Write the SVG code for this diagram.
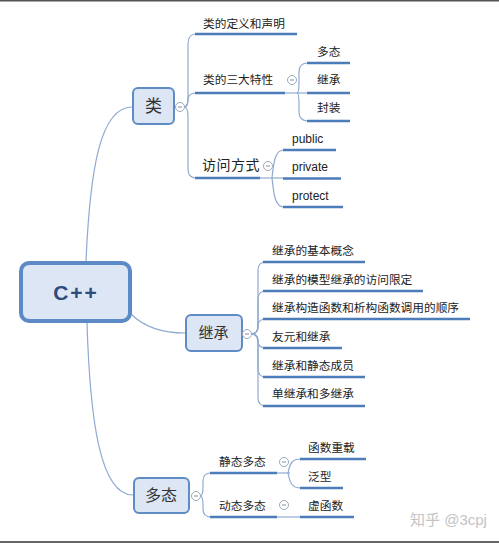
<svg xmlns="http://www.w3.org/2000/svg" width="499" height="544" viewBox="0 0 499 544">
<style>
.con{fill:none;stroke:#8eaad0;stroke-width:1.2}
.ul{stroke:#4d7db9;stroke-width:2.6;stroke-linecap:butt}
.t{font-family:"Liberation Sans","Noto Sans CJK SC",sans-serif;font-size:11.7px;fill:#222}
.box{fill:#dce6f4;stroke:#5f8cc4;stroke-width:2}
.nt{font-family:"Liberation Sans","Noto Sans CJK SC",sans-serif;fill:#333;text-anchor:middle}
.col{fill:#fff;stroke:#9aa8b8;stroke-width:1}
.mn{stroke:#7f8fa3;stroke-width:1}
</style>
<rect width="499" height="544" fill="#fff"/>
<rect x="0" y="0" width="499" height="1.5" fill="#555"/>
<rect x="0" y="541" width="499" height="2" fill="#666"/>

<g id="connectors">
<path class="con" d="M86,261 C90,170 100,107 132,107"/>
<path class="con" d="M131,314 Q150,333 185,333"/>
<path class="con" d="M87,323 C90,420 100,495 133,495"/>
<!-- 类 -->
<path class="con" d="M184,107 Q188,107 188,98 L188,44 Q188,34 196,34"/>
<path class="con" d="M184,107 Q188,107 188,100 Q188,93 196,93"/>
<path class="con" d="M184,107 Q188,107 188,116 L188,169 Q188,178 196,178"/>
<path class="con" d="M285,93 L307,93"/>
<path class="con" d="M297,93 Q299,93 299,82 L299,72 Q299,63 308,63"/>
<path class="con" d="M297,93 Q299,93 299,104 L299,112 Q299,121 308,121"/>
<path class="con" d="M260,178 L284,178"/>
<path class="con" d="M272,178 C274,158 276,150 284,150"/>
<path class="con" d="M272,178 C274,198 276,207 284,207"/>
<!-- 继承 -->
<path class="con" d="M251,334 Q258,334 258,326 L258,270 Q258,262 266,262"/>
<path class="con" d="M251,334 Q258,334 258,326 L258,299 Q258,291 266,291"/>
<path class="con" d="M251,334 Q258,334 258,326 Q258,319 266,319"/>
<path class="con" d="M251,334 Q258,334 258,341 Q258,348 266,348"/>
<path class="con" d="M251,334 Q258,334 258,342 L258,369 Q258,377 266,377"/>
<path class="con" d="M251,334 Q258,334 258,342 L258,398 Q258,406 266,406"/>
<!-- 多态 -->
<path class="con" d="M200,496 Q203,496 203,488 L203,481 Q203,473 211,473"/>
<path class="con" d="M200,496 Q203,496 203,504 L203,509 Q203,517 211,517"/>
<path class="con" d="M277,473 L290,473"/>
<path class="con" d="M288,473 C290,463 292,459 301,459"/>
<path class="con" d="M288,473 C290,483 292,488 301,488"/>
<path class="con" d="M277,517 L301,517"/>
</g>

<g id="node-cpp">
<rect x="21" y="263" width="109" height="58" rx="8" fill="#dce6f4" stroke="#5b8ac6" stroke-width="4"/>
<text x="76" y="300" class="nt" style="font-size:21px;font-weight:bold;fill:#2f4b7c;letter-spacing:2px">C++</text>
</g>

<g id="node-class">
<rect class="box" x="133" y="88" width="41" height="36" rx="5"/>
<text x="153.5" y="112" class="nt" style="font-size:17px">类</text>
<circle class="col" cx="180" cy="107" r="4.5"/><line class="mn" x1="178" y1="107" x2="182" y2="107"/>
</g>
<g id="node-class-def">
<text x="203" y="28" class="t">类的定义和声明</text>
<line class="ul" x1="195" y1="34" x2="297" y2="34"/>
</g>
<g id="node-class-three">
<text x="203" y="84" class="t">类的三大特性</text>
<line class="ul" x1="195" y1="93" x2="285" y2="93"/>
<circle class="col" cx="292" cy="80" r="4.5"/><line class="mn" x1="290" y1="80" x2="294" y2="80"/>
</g>
<g id="node-poly1">
<text x="317" y="56" class="t">多态</text>
<line class="ul" x1="307" y1="63" x2="350" y2="63"/>
</g>
<g id="node-inh1">
<text x="317" y="84" class="t">继承</text>
<line class="ul" x1="307" y1="93" x2="350" y2="93"/>
</g>
<g id="node-enc">
<text x="317" y="112" class="t">封装</text>
<line class="ul" x1="307" y1="121" x2="350" y2="121"/>
</g>
<g id="node-access">
<text x="202" y="170" class="t" style="font-size:14px;letter-spacing:0.5px">访问方式</text>
<line class="ul" x1="195" y1="178" x2="260" y2="178"/>
<circle class="col" cx="268" cy="166" r="4.5"/><line class="mn" x1="266" y1="166" x2="270" y2="166"/>
</g>
<g id="node-public">
<text x="292" y="142.5" class="t" style="font-size:12px">public</text>
<line class="ul" x1="283" y1="150" x2="336" y2="150"/>
</g>
<g id="node-private">
<text x="292" y="171" class="t" style="font-size:12px">private</text>
<line class="ul" x1="283" y1="178.5" x2="341" y2="178.5"/>
</g>
<g id="node-protect">
<text x="292" y="200" class="t" style="font-size:12px">protect</text>
<line class="ul" x1="283" y1="207" x2="343" y2="207"/>
</g>

<g id="node-inherit">
<rect class="box" x="186" y="315" width="56" height="36" rx="5"/>
<text x="213.5" y="338" class="nt" style="font-size:15px">继承</text>
<circle class="col" cx="247" cy="334" r="4.5"/><line class="mn" x1="245" y1="334" x2="249" y2="334"/>
</g>
<g id="node-inh-a">
<text x="272" y="255" class="t">继承的基本概念</text>
<line class="ul" x1="263" y1="262" x2="365" y2="262"/>
</g>
<g id="node-inh-b">
<text x="272" y="284" class="t">继承的模型继承的访问限定</text>
<line class="ul" x1="263" y1="291" x2="423" y2="291"/>
</g>
<g id="node-inh-c">
<text x="272" y="312" class="t">继承构造函数和析构函数调用的顺序</text>
<line class="ul" x1="263" y1="319" x2="470" y2="319"/>
</g>
<g id="node-inh-d">
<text x="272" y="341" class="t">友元和继承</text>
<line class="ul" x1="263" y1="348" x2="342" y2="348"/>
</g>
<g id="node-inh-e">
<text x="272" y="370" class="t">继承和静态成员</text>
<line class="ul" x1="263" y1="377" x2="365" y2="377"/>
</g>
<g id="node-inh-f">
<text x="272" y="398" class="t">单继承和多继承</text>
<line class="ul" x1="263" y1="406" x2="365" y2="406"/>
</g>

<g id="node-poly">
<rect class="box" x="134" y="478" width="55" height="35" rx="5"/>
<text x="161" y="501" class="nt" style="font-size:16px">多态</text>
<circle class="col" cx="196" cy="496" r="4.5"/><line class="mn" x1="194" y1="496" x2="198" y2="496"/>
</g>
<g id="node-static">
<text x="219" y="466" class="t">静态多态</text>
<line class="ul" x1="210" y1="473" x2="277" y2="473"/>
<circle class="col" cx="284" cy="462" r="4.5"/><line class="mn" x1="282" y1="462" x2="286" y2="462"/>
</g>
<g id="node-overload">
<text x="308" y="452" class="t">函数重载</text>
<line class="ul" x1="300" y1="459" x2="366" y2="459"/>
</g>
<g id="node-generic">
<text x="308" y="481" class="t">泛型</text>
<line class="ul" x1="300" y1="488" x2="343" y2="488"/>
</g>
<g id="node-dynamic">
<text x="219" y="510" class="t">动态多态</text>
<line class="ul" x1="210" y1="517" x2="277" y2="517"/>
<circle class="col" cx="284" cy="505" r="4.5"/><line class="mn" x1="282" y1="505" x2="286" y2="505"/>
</g>
<g id="node-virtual">
<text x="308" y="510" class="t">虚函数</text>
<line class="ul" x1="300" y1="517" x2="354" y2="517"/>
</g>

<text x="410" y="525" style="font-family:'Liberation Sans','Noto Sans CJK SC',sans-serif;font-size:15px;fill:#c4c4c4">知乎 @3cpj</text>
</svg>
